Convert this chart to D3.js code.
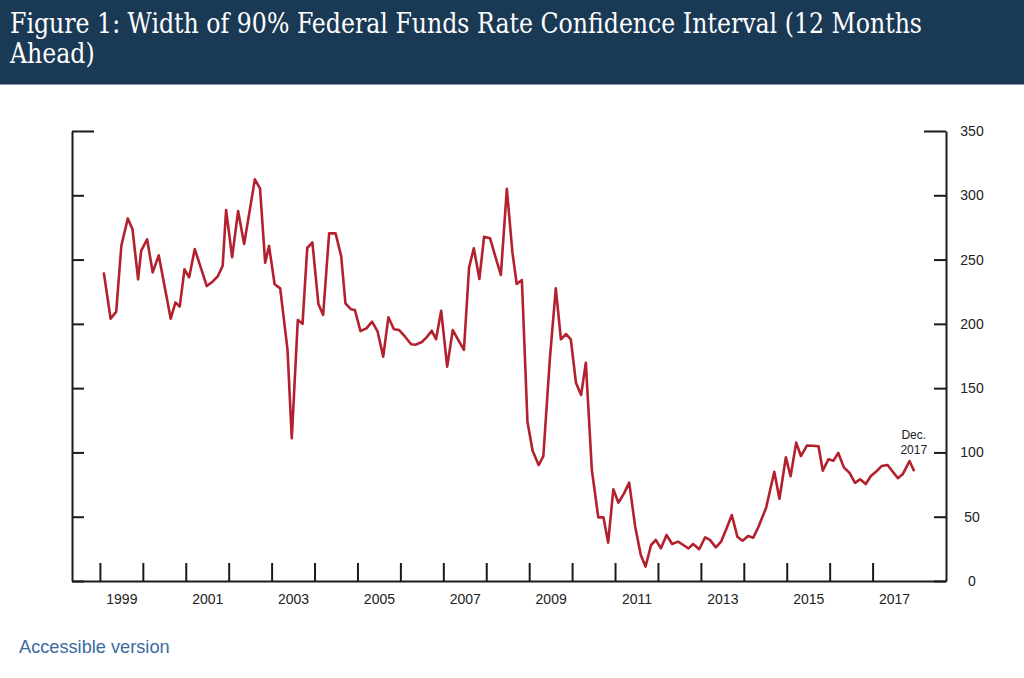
<!DOCTYPE html>
<html>
<head>
<meta charset="utf-8">
<script src="https://cdn.jsdelivr.net/npm/d3@7"></script>
<style>
  html, body { margin: 0; padding: 0; background: #fff; }
  svg { display: block; }
</style>
</head>
<body>
<svg id="chart" width="1024" height="678"></svg>
<script>
// ---- Data ----
const titleLines = ["Figure 1: Width of 90% Federal Funds Rate Confidence Interval (12 Months", "Ahead)"];
const linkText = "Accessible version";
const endLabel = ["Dec.", "2017"];

// observation dates as decimal years (approx. FOMC meeting spacing)
const dates = [
  1999.09,1999.25,1999.38,1999.50,1999.65,1999.76,1999.89,1999.96,
  2000.10,2000.23,2000.37,2000.65,2000.76,2000.86,2000.97,
  2001.08,2001.21,2001.49,2001.63,2001.75,2001.86,2001.94,
  2002.08,2002.22,2002.36,2002.61,2002.73,2002.85,2002.94,
  2003.07,2003.20,2003.37,2003.47,2003.61,2003.72,2003.83,2003.95,
  2004.09,2004.20,2004.34,2004.49,2004.62,2004.72,2004.85,2004.94,
  2005.07,2005.21,2005.34,2005.47,2005.60,2005.72,2005.85,2005.97,
  2006.11,2006.25,2006.36,2006.50,2006.61,2006.73,2006.83,2006.95,
  2007.09,2007.22,2007.35,2007.48,2007.60,2007.71,2007.84,2007.95,
  2008.09,2008.20,2008.34,2008.48,2008.61,2008.71,2008.83,2008.96,
  2009.08,2009.22,2009.33,2009.48,2009.62,2009.74,2009.86,2009.97,
  2010.09,2010.21,2010.32,2010.46,2010.61,2010.73,2010.84,2010.96,
  2011.08,2011.21,2011.33,2011.47,2011.60,2011.71,2011.84,2011.95,
  2012.07,2012.20,2012.33,2012.47,2012.59,2012.71,2012.82,2012.96,
  2013.10,2013.21,2013.35,2013.47,2013.60,2013.72,2013.85,2013.97,
  2014.10,2014.22,2014.34,2014.52,2014.71,2014.83,2014.98,
  2015.09,2015.22,2015.33,2015.47,2015.59,2015.74,2015.84,2015.97,
  2016.09,2016.20,2016.33,2016.46,2016.59,2016.71,2016.84,2016.96,
  2017.10,2017.21,2017.35,2017.47,2017.59,2017.70,2017.86,2017.97
];
// width of the 90% confidence interval, basis points
const widths = [
  240,204,209.5,261,282,273.5,234.6,256.7,
  265.8,240,253.3,204,216.7,213.4,242.4,
  236.2,258.2,229.4,233,237.2,245.2,288.6,
  251.8,287.8,262.1,312.4,305.4,247.6,260.6,
  230.8,227.6,180,111,203,200,259,263.4,
  215.4,206.9,270.4,270.4,252.8,216,211.3,210.8,
  194.4,196.5,201.7,193.9,174.5,205.1,195.8,195.2,
  190,184.1,183.8,185.9,189.5,194.7,188,210.2,
  166.7,195.2,187.4,179.7,243.7,258.8,234.9,267.8,
  266.5,253.6,238,305,255.4,231,234.1,123.9,
  101.3,90.2,97.2,172,227.6,188,192.1,188,
  154.2,144.7,169.8,86.3,49.5,49.5,29.8,71.3,
  60.9,68.2,76.5,42.2,20.2,11.2,28,31.9,
  25.4,35.8,28.8,30.6,28,25.4,28.8,24.7,
  34,32,26.2,30.6,41,51.3,34.5,31.3,
  35,33.7,42,57,85,64,96.2,
  81.5,107.6,97.2,105.3,105.2,104.8,85.8,94.7,
  93.6,99.6,88.4,84.2,76.3,79.1,75.4,81.7,
  85.6,89.4,90.2,85,80,83,93.3,85.4
];

const xTickYears = d3.range(1999, 2018);          // year boundaries 1999..2017
const xLabelYears = [1999, 2001, 2003, 2005, 2007, 2009, 2011, 2013, 2015, 2017];
const yTicks = [0, 50, 100, 150, 200, 250, 300, 350];
const xDomain = [1998.35, 2018.71];
const yDomain = [0, 350];

// ---- Layout ----
const svg = d3.select("#chart");
const W = 1024, H = 678;
const plot = { left: 72, right: 946, top: 131, bottom: 581 };

// Title banner
svg.append("rect").attr("x", 0).attr("y", 0).attr("width", W).attr("height", 84)
  .attr("fill", "#1a3955");
svg.append("rect").attr("x", 0).attr("y", 84).attr("width", W).attr("height", 1)
  .attr("fill", "#8799ab");

const title = svg.append("g")
  .attr("font-family", "'DejaVu Serif Condensed', 'DejaVu Serif', serif")
  .attr("font-stretch", "condensed")
  .attr("font-size", 27).attr("fill", "#fff");
title.selectAll("text").data(titleLines).join("text")
  .attr("x", 10).attr("y", (d, i) => 33 + i * 30)
  .text(d => d);
// fit first line to the reference width
const t0 = title.select("text").node();
const len0 = t0.getComputedTextLength();
const scaleW = 912 / len0;
title.selectAll("text").each(function() {
  const l = this.getComputedTextLength();
  d3.select(this).attr("textLength", l * scaleW).attr("lengthAdjust", "spacingAndGlyphs");
});

// Scales
const x = d3.scaleLinear().domain(xDomain).range([plot.left, plot.right]);
const y = d3.scaleLinear().domain(yDomain).range([plot.bottom, plot.top]);

const axisColor = "#1a1a1a";
const labelFont = "'Liberation Sans', Arial, sans-serif";

// Left axis (ticks inward, no labels)
const gL = svg.append("g").attr("transform", `translate(${plot.left},0)`);
gL.call(d3.axisLeft(y).tickValues(yTicks.filter(v => v !== 350)).tickSize(-12).tickSizeOuter(0).tickFormat(""));
gL.append("g").call(d3.axisLeft(y).tickValues([350]).tickSize(-22).tickFormat(""))
  .select(".domain").remove();

// Right axis (ticks inward, labels outside)
const gR = svg.append("g").attr("transform", `translate(${plot.right},0)`);
gR.call(d3.axisRight(y).tickValues(yTicks.filter(v => v !== 350)).tickSize(-12).tickSizeOuter(0).tickPadding(26));
gR.append("g").call(d3.axisRight(y).tickValues([350]).tickSize(-22).tickPadding(26))
  .select(".domain").remove();
gR.selectAll("text").attr("text-anchor", "middle");

// Bottom axis: year boundary ticks pointing up
const gB = svg.append("g").attr("transform", `translate(0,${plot.bottom})`);
gB.call(d3.axisBottom(x).tickValues(xTickYears).tickSize(-18).tickSizeOuter(0).tickFormat(""));
// year labels centred within each labelled year
const gBL = svg.append("g").attr("transform", `translate(0,${plot.bottom})`);
gBL.call(d3.axisBottom(x).tickValues(xLabelYears.map(v => v + 0.5)).tickSize(0).tickPadding(13)
  .tickFormat(d => String(Math.floor(d))));
gBL.select(".domain").remove();

svg.selectAll(".domain").attr("stroke", axisColor).attr("stroke-width", 2);
svg.selectAll(".tick line").attr("stroke", axisColor).attr("stroke-width", 2);
svg.selectAll(".tick text").attr("font-family", labelFont).attr("font-size", 14).attr("fill", "#222");

// Data line
const data = dates.map((d, i) => ({ t: d, v: widths[i] }));
svg.append("path").datum(data)
  .attr("fill", "none")
  .attr("stroke", "#b3202e")
  .attr("stroke-width", 2.6)
  .attr("stroke-linejoin", "round")
  .attr("d", d3.line().x(d => x(d.t)).y(d => y(d.v)));

// End annotation
const last = data[data.length - 1];
svg.append("g").attr("font-family", labelFont).attr("font-size", 12).attr("fill", "#222")
  .attr("text-anchor", "middle")
  .selectAll("text").data(endLabel).join("text")
  .attr("x", x(last.t) - 0.5)
  .attr("y", (d, i) => y(last.v) - 32 + i * 15)
  .text(d => d);

// Accessible version link
svg.append("text").attr("x", 19).attr("y", 652.5)
  .attr("font-family", labelFont).attr("font-size", 18.2).attr("fill", "#3a6aa0")
  .text(linkText);
</script>
</body>
</html>
